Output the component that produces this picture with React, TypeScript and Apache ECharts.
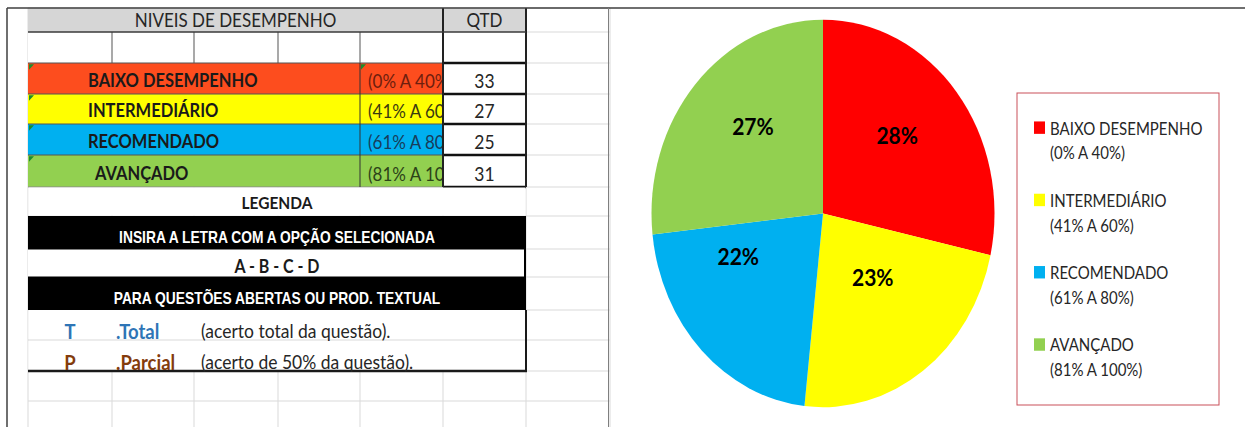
import React, { useEffect, useRef } from "react";
import * as echarts from "echarts";

// ---------- data ----------
const categories = ["BAIXO DESEMPENHO", "INTERMEDIÁRIO", "RECOMENDADO", "AVANÇADO"];
const ranges = ["(0% A 40%)", "(41% A 60%)", "(61% A 80%)", "(81% A 100%)"];
const counts = [33, 27, 25, 31];
const sliceColors = ["#FF0000", "#FFFF00", "#00B0F0", "#92D050"];
const rowColors = ["#FD4D1E", "#FFFF00", "#00B0F0", "#92D050"];
const rangeColors = ["#6E1E0E", "#3A3A10", "#183C5A", "#2C4218"];
const tableTitle = "NIVEIS DE DESEMPENHO";
const qtdTitle = "QTD";
const legendTitle = "LEGENDA";
const line1 = "INSIRA A LETRA COM A OPÇÃO SELECIONADA";
const line2 = "A - B - C - D";
const line3 = "PARA QUESTÕES ABERTAS OU PROD. TEXTUAL";
const codes = ["T", "P"];
const codeNames = [".Total", ".Parcial"];
const codeDesc = ["(acerto total da questão).", "(acerto de 50% da questão)."];
const codeColors = ["#2E75B6", "#843C0C"];
// small nudges of the pie's percentage labels (px)
const labelShiftX = [5, -2, -22, -4];
const labelShiftY = [-14, -16, -25, -18];

// ---------- layout ----------
const W = 1245;
const FULL_H = 427;
const H = 378;
const S = FULL_H / H;
const Y = (v: number) => v / S;

const R = [8, 32, 63, 94, 124, 155, 187, 216, 249, 277, 310, 340, 371, 401, 440];
const C = [28, 112, 194, 278, 360, 443, 526, 610];

function buildGraphic() {
  const g: any[] = [];
  const rect = (x1: number, y1: number, x2: number, y2: number, fill: string) =>
    g.push({ type: "rect", silent: true, shape: { x: x1, y: Y(y1), width: x2 - x1, height: Y(y2) - Y(y1) }, style: { fill } });
  const line = (x1: number, y1: number, x2: number, y2: number, stroke: string, w = 1) =>
    g.push({ type: "line", silent: true, shape: { x1, y1: Y(y1), x2, y2: Y(y2) }, style: { stroke, lineWidth: w } });
  const txt = (x: number, y: number, text: string, o: any) =>
    g.push({
      type: "text",
      silent: true,
      x,
      y: Y(y),
      style: {
        text,
        fill: o.color || "#262626",
        fontSize: o.size || 17,
        fontFamily: o.family || "Lato",
        fontWeight: o.bold ? "bold" : "normal",
        align: o.align || "left",
        verticalAlign: "middle",
        textAlign: o.align || "left",
        textVerticalAlign: "middle",
      },
    });

  const light = "#D9D9D9";
  const dark = "#3A3A3A";
  // spreadsheet light grid
  R.forEach((y) => line(C[0], y, C[7], y, light, 1));
  C.forEach((x) => line(x, R[0], x, 440, light, 1));

  // header row
  rect(C[0], R[0], C[6], R[1], "#D6D6D6");
  txt((C[0] + C[5]) / 2, 20, tableTitle, { size: 17, align: "center" });
  txt((C[5] + C[6]) / 2, 20, qtdTitle, { size: 17, align: "center" });
  // row 2 (empty) inner borders
  rect(C[0], R[1], C[6], R[2], "#FFFFFF");
  [1, 2, 3, 4].forEach((i) => line(C[i], R[1], C[i], R[2], "#555555", 1));

  // colored rows
  categories.forEach((cat, i) => {
    const y1 = R[2 + i];
    const y2 = R[3 + i];
    rect(C[0], y1, C[5], y2, rowColors[i]);
    txt(C[4] + 8, y2 - 13.5, ranges[i], { size: 17, color: rangeColors[i] });
  });
  for (let i = 2; i <= 6; i++) line(C[0], R[i], C[5], R[i], i === 6 ? "#8A8A8A" : "#555555", 1);
  line(C[4], R[2], C[4], R[6], "#333333", 1);
  // green error markers
  [[C[0], R[2]], [C[0], R[3]], [C[0], R[4]], [C[0], R[5]], [C[4], R[2]]].forEach(([x, y]) =>
    g.push({ type: "polygon", silent: true, shape: { points: [[x + 1, Y(y) + 1], [x + 6, Y(y) + 1], [x + 1, Y(y) + 6]] }, style: { fill: "#1E8C2E" } })
  );
  categories.forEach((cat, i) => {
    const y2 = R[3 + i];
    txt(i === 3 ? 95 : 88, y2 - 13.5, cat, { size: 16.5, bold: true, color: "#1A1A1A" });
  });

  // QTD cells
  for (let i = 1; i <= 5; i++) rect(C[5], R[i], C[6], R[i + 1], "#FFFFFF");
  for (let i = 2; i <= 6; i++) line(C[5], R[i], C[6], R[i], "#111111", 2);
  line(C[5], R[0], C[5], R[6], "#222222", 2);
  line(C[6], R[0], C[6], R[6], "#222222", 2);
  line(C[0], R[1], C[6], R[1], dark, 1.5);
  counts.forEach((v, i) => txt((C[5] + C[6]) / 2, R[3 + i] - 13.5, String(v), { size: 17.5, align: "center", color: "#262626" }));

  // LEGENDA row
  rect(C[0] + 0.5, R[6] + 0.5, C[6] - 0.5, R[7] - 0.5, "#FFFFFF");
  txt((C[0] + C[6]) / 2, 203, legendTitle, { size: 15.5, bold: true, align: "center", color: "#1A1A1A" });
  // black bands
  rect(C[0], R[7], C[6], R[10], "#000000");
  rect(C[0], R[8] + 0.5, C[6] - 2, R[9] - 0.5, "#FFFFFF");
  txt((C[0] + C[6]) / 2, 238, line1, { size: 13.8, bold: true, align: "center", color: "#FFFFFF", family: "Liberation Sans" });
  txt((C[0] + C[6]) / 2, 266.5, line2, { size: 16, bold: true, align: "center", color: "#1A1A1A" });
  txt((C[0] + C[6]) / 2, 299, line3, { size: 13.8, bold: true, align: "center", color: "#FFFFFF", family: "Liberation Sans" });

  // T / P rows
  rect(C[0] + 0.5, R[10], C[6] - 1, R[12], "#FFFFFF");
  line(C[0], R[11], C[6], R[11], light, 1);
  line(C[6], R[10], C[6], R[12] + 1, "#1A1A1A", 2);
  line(C[0], R[12], C[6] + 1, R[12], "#1A1A1A", 2);
  codes.forEach((c, i) => {
    const yc = R[11 + i] - 9;
    txt((C[0] + C[1]) / 2, yc, c, { size: 18.5, bold: true, align: "center", color: codeColors[i] });
    txt(116, yc, codeNames[i], { size: 18.5, bold: true, color: codeColors[i] });
    txt(201, yc, codeDesc[i], { size: 17.5, color: "#262626" });
  });

  // frame lines
  line(7, R[0], W, R[0], "#3F3F3F", 1.5);
  line(7, R[0], 7, 440, "#3F3F3F", 1.5);
  line(608.5, R[0], 608.5, 440, "#7F7F7F", 1);

  // legend box
  g.push({
    type: "rect",
    silent: true,
    shape: { x: 1017, y: Y(93), width: 202, height: Y(405) - Y(93) },
    style: { fill: "#FFFFFF", stroke: "#C9505A", lineWidth: 1 },
  });
  return g;
}

export default function App() {
  const ref = useRef<HTMLDivElement>(null);
  useEffect(() => {
    if (!ref.current) return;
    const chart = echarts.init(ref.current, undefined, { renderer: "svg" });
    chart.setOption({
      animation: false,
      backgroundColor: "#FFFFFF",
      graphic: { elements: buildGraphic() },
      legend: {
        orient: "vertical",
        left: 1034,
        top: 80,
        padding: 0,
        itemWidth: 11,
        itemHeight: 11,
        itemGap: -2,
        icon: "rect",
        selectedMode: false,
        data: categories,
        formatter: (name: string) => `\n${name}\n${ranges[categories.indexOf(name)]}`,
        textStyle: { fontFamily: "Lato", fontSize: 15, color: "#262626", lineHeight: 22 },
      },
      series: [
        {
          type: "pie",
          center: [823, Y(213.5)],
          radius: 171.5,
          startAngle: 90,
          clockwise: true,
          silent: true,
          data: categories.map((n, i) => ({ name: n, value: counts[i], itemStyle: { color: sliceColors[i] } })),
          label: {
            show: true,
            position: "inside",
            formatter: (p: any) => `${Math.round(p.percent)}%`,
            fontFamily: "Lato",
            fontWeight: "bold",
            fontSize: 21,
            color: "#000000",
          },
          labelLayout: (p: any) => ({ dx: labelShiftX[p.dataIndex], dy: labelShiftY[p.dataIndex] }),
          labelLine: { show: false },
          itemStyle: { borderWidth: 0 },
          emphasis: { disabled: true },
        },
      ],
    });
    return () => chart.dispose();
  }, []);
  return (
    <div style={{ position: "fixed", left: 0, top: 0, width: W, height: FULL_H, overflow: "hidden", background: "#fff" }}>
      <div ref={ref} style={{ width: W, height: H, transform: `scaleY(${S})`, transformOrigin: "0 0" }} />
    </div>
  );
}
